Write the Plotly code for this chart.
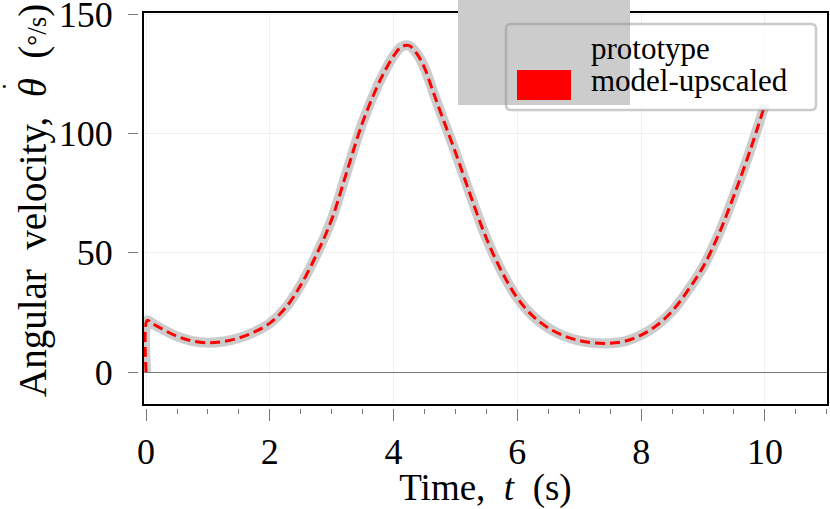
import plotly.graph_objects as go

# angular velocity (both series overlap)
time_s = [0.0, 0.02, 0.1, 0.25, 0.5, 0.75, 1.0, 1.25, 1.5, 1.75, 2.0, 2.25, 2.5,
          2.75, 3.0, 3.25, 3.5, 3.75, 3.875, 4.0, 4.125, 4.25, 4.375, 4.5,
          4.625, 4.75, 5.0, 5.25, 5.5, 5.75, 6.0, 6.25, 6.5, 6.75, 7.0, 7.25,
          7.5, 7.75, 8.0, 8.25, 8.5, 8.75, 9.0, 9.25, 9.5, 9.75, 10.0]
prototype = [0.0, 21.7, 20.4, 18.2, 15.0, 13.0, 12.3, 12.8, 14.3, 16.8, 20.5,
             26.8, 36.5, 49.0, 64.0, 84.5, 104.7, 120.5, 127.0, 132.5, 136.3,
             136.8, 133.5, 127.5, 118.5, 109.5, 92.0, 73.5, 56.0, 42.0, 31.0,
             23.5, 18.5, 15.2, 13.2, 12.2, 12.1, 13.0, 15.5, 19.5, 25.5, 34.0,
             44.0, 57.5, 74.0, 92.0, 112.0]
model_upscaled = list(prototype)

series_names = ['prototype', 'model-upscaled']
x_ticks = [0, 2, 4, 6, 8, 10]
y_ticks = [0, 50, 100, 150]

W, H = 830, 509
ML, MR, MT, MB = 138, 2, 12, 101
PW, PH = W - ML - MR, H - MT - MB


def px(x):
    return (x - ML) / PW


def py(y):
    return (H - MB - y) / PH


def rounded_rect(x0, y0, x1, y1, r=5):
    rx, ry = r / PW, r / PH
    a, b, c, d = px(x0), py(y1), px(x1), py(y0)
    return (f'M{a + rx},{b} L{c - rx},{b} Q{c},{b} {c},{b + ry} '
            f'L{c},{d - ry} Q{c},{d} {c - rx},{d} L{a + rx},{d} '
            f'Q{a},{d} {a},{d - ry} L{a},{b + ry} Q{a},{b} {a + rx},{b} Z')


SERIF = 'Liberation Serif'

fig = go.Figure()
fig.add_trace(go.Scatter(
    x=time_s, y=prototype, mode='lines', name=series_names[0],
    line=dict(color='#cccccc', width=10, shape='spline', smoothing=1.0),
    showlegend=False,
))
fig.add_trace(go.Scatter(
    x=time_s, y=model_upscaled, mode='lines', name=series_names[1],
    line=dict(color='red', width=3, dash='10px,5px', shape='spline', smoothing=1.0),
    showlegend=False,
))

shapes = [
    # plot frame
    dict(type='rect', xref='x domain', yref='y domain', x0=0, x1=1, y0=0, y1=1,
         line=dict(color='black', width=2), layer='above'),
    # legend background
    dict(type='path', xref='paper', yref='paper', path=rounded_rect(506, 24, 816, 110),
         fillcolor='rgba(255,255,255,0.8)', line=dict(width=0), layer='above'),
    # stray grey patch
    dict(type='rect', xref='paper', yref='paper', x0=px(458), x1=px(630),
         y0=py(105), y1=py(0), fillcolor='#cccccc', line=dict(width=0), layer='above'),
    # legend border
    dict(type='path', xref='paper', yref='paper', path=rounded_rect(506, 24, 816, 110),
         fillcolor='rgba(0,0,0,0)', line=dict(color='rgba(140,140,140,0.45)', width=2.5),
         layer='above'),
    # legend patch for model-upscaled
    dict(type='rect', xref='paper', yref='paper', x0=px(517), x1=px(571),
         y0=py(100), y1=py(70), fillcolor='red', line=dict(width=0), layer='above'),
]

annotations = [
    dict(text=series_names[0], xref='paper', yref='paper', x=px(589), y=py(48),
         xanchor='left', yanchor='middle', showarrow=False,
         font=dict(family=SERIF, size=31, color='black')),
    dict(text=series_names[1], xref='paper', yref='paper', x=px(589), y=py(81),
         xanchor='left', yanchor='middle', showarrow=False,
         font=dict(family=SERIF, size=31, color='black')),
    # y axis title
    dict(text='Angular\u00a0\u00a0velocity,\u00a0\u00a0<i>\u03b8</i>'
              '\u00a0\u00a0(<span style="font-size:27px">\u00b0/s</span>)',
         xref='paper', yref='paper', x=px(33), y=py(201),
         xanchor='center', yanchor='middle', showarrow=False, textangle=-90,
         font=dict(family=SERIF, size=39, color='black')),
    # dot accent over theta
    dict(text='\u2022', xref='paper', yref='paper', x=px(4), y=py(86),
         xanchor='center', yanchor='middle', showarrow=False,
         font=dict(family=SERIF, size=13, color='black')),
]

fig.update_layout(
    width=W, height=H,
    margin=dict(l=ML, r=MR, t=MT, b=MB),
    paper_bgcolor='white', plot_bgcolor='white',
    font=dict(family=SERIF, size=36, color='black'),
    shapes=shapes, annotations=annotations,
    xaxis=dict(
        domain=[5 / PW, 1], anchor='free', position=0, automargin=False,
        range=[-0.05, 11.02], tickvals=x_ticks,
        ticks='outside', ticklen=12, tickwidth=1, tickcolor='#777777',
        minor=dict(dtick=0.5, ticks='outside', ticklen=5, tickcolor='#777777', showgrid=False),
        showline=False, showgrid=True, gridcolor='#f0f0f0', gridwidth=1,
        zeroline=False,
        title=dict(text='Time,\u00a0\u00a0<i>t</i>\u00a0\u00a0(s)', standoff=4,
                   font=dict(family=SERIF, size=37)),
    ),
    yaxis=dict(
        domain=[3 / PH, 1], anchor='free', position=0, automargin=False,
        range=[-13.8, 150.9], tickvals=y_ticks,
        ticks='outside', ticklen=10, tickwidth=1, tickcolor='#777777',
        ticklabelstandoff=8, ticklabeloverflow='allow',
        showline=False, showgrid=True, gridcolor='#f0f0f0', gridwidth=1,
        zeroline=True, zerolinecolor='#777777', zerolinewidth=1,
    ),
)

fig.write_html('out.html', config={'displayModeBar': False},
               post_script="document.body.style.margin = '0';")
